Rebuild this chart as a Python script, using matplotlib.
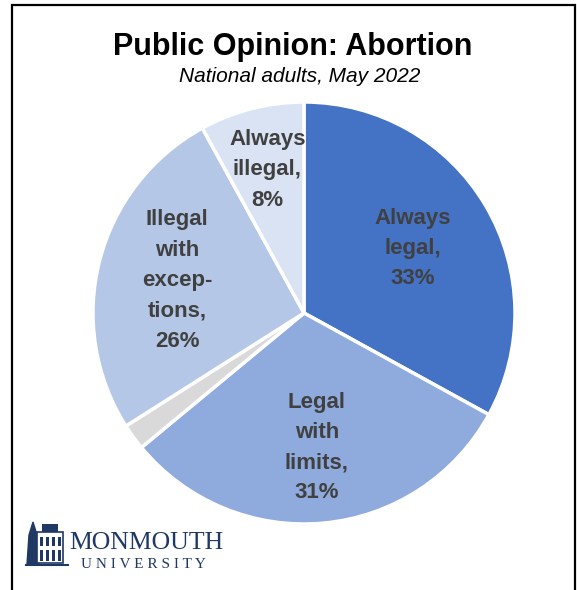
import matplotlib
matplotlib.use('Agg')
import matplotlib.pyplot as plt
import numpy as np
from matplotlib.patches import Rectangle, Polygon

labels = ['Always\nlegal,\n33%', 'Legal\nwith\nlimits,\n31%', '', 'Illegal\nwith\nexcep-\ntions,\n26%', 'Always\nillegal,\n8%']
values = [33, 31, 2, 26, 8]
colors = ['#4472C4', '#8FAADC', '#D9D9D9', '#B4C7E7', '#DAE3F3']
label_r = [0.60, 0.64, 0.6, 0.62, 0.70]

fig = plt.figure(figsize=(5.77, 5.90), dpi=100)
fig.patch.set_facecolor('white')

# outer frame (bottom edge runs off the image)
fig.add_artist(Rectangle((12 / 577, -0.05), 563 / 577, 1 - 5 / 590 + 0.05,
                         transform=fig.transFigure, fill=False, edgecolor='black', lw=1.6))

fig.text(293 / 577, 1 - 47 / 590, 'Public Opinion: Abortion', ha='center', va='center',
         fontsize=22, fontweight='bold', family='Liberation Sans')
fig.text(300 / 577, 1 - 76 / 590, 'National adults, May 2022', ha='center', va='center',
         fontsize=15, style='italic', family='Liberation Sans')

# pie centre (304, 313), radius 211 px
r_px = 211
ax = fig.add_axes([(304 - r_px) / 577, 1 - (313 + r_px) / 590, 2 * r_px / 577, 2 * r_px / 590])
wedges, _ = ax.pie(values, colors=colors, startangle=90, counterclock=False,
                   wedgeprops={'edgecolor': 'white', 'linewidth': 2.5})
ax.set_xlim(-1, 1)
ax.set_ylim(-1, 1)
ax.set_aspect('auto')
ax.axis('off')

for w, lab, r in zip(wedges, labels, label_r):
    if not lab:
        continue
    ang = np.deg2rad((w.theta1 + w.theta2) / 2)
    ax.text(r * np.cos(ang), r * np.sin(ang), lab, ha='center', va='center',
            fontsize=16, fontweight='bold', color='#404040', linespacing=1.58,
            family='Liberation Sans')

# logo
lax = fig.add_axes([0, 0, 1, 1], facecolor='none')
lax.set_xlim(0, 577)
lax.set_ylim(590, 0)
lax.axis('off')
navy = '#1F3864'
lax.add_patch(Polygon([[27, 564], [29, 535], [33, 522], [37, 535], [39, 564]], color=navy))
lax.add_patch(Rectangle((37, 532), 26, 31, facecolor='white', edgecolor=navy, lw=1.2))
lax.add_patch(Rectangle((42, 524), 16, 8, facecolor=navy))
for xx in (40, 46, 52, 58):
    lax.add_patch(Rectangle((xx, 537), 2.5, 9, facecolor=navy))
    lax.add_patch(Rectangle((xx, 550), 2.5, 11, facecolor=navy))
lax.plot([26, 68], [565, 565], color=navy, lw=1.5)
lax.text(146, 543, 'MONMOUTH', ha='center', va='center', fontsize=18.5,
         family='Liberation Serif', color=navy)
lax.text(143, 565, 'U N I V E R S I T Y', ha='center', va='center', fontsize=11,
         family='Liberation Serif', color=navy)

fig.savefig('out.png', dpi=100)
